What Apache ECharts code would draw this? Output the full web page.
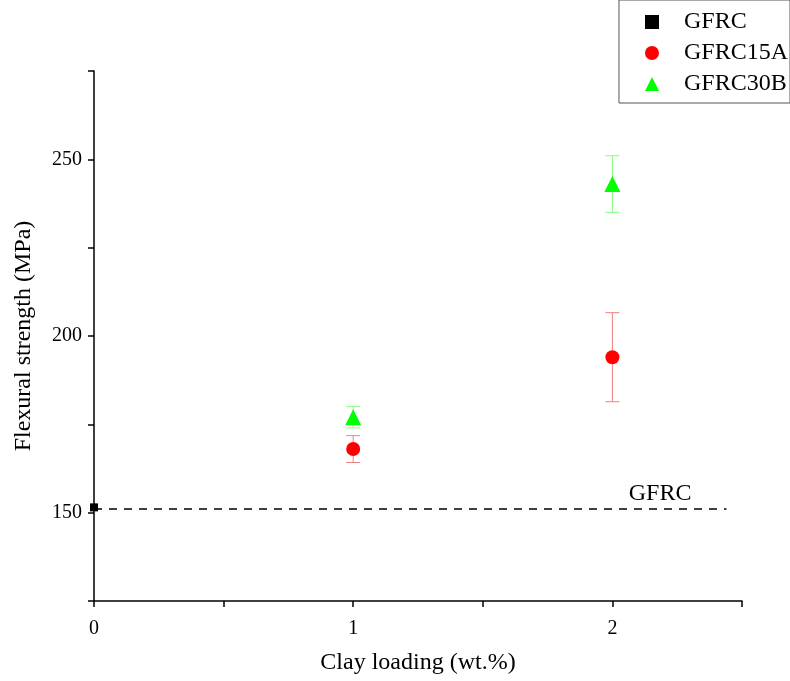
<!DOCTYPE html>
<html>
<head>
<meta charset="utf-8">
<script src="https://cdn.jsdelivr.net/npm/echarts@6/dist/echarts.min.js"></script>
<style>
html,body{margin:0;padding:0;background:#fff;}
#main{width:790px;height:681px;}
</style>
</head>
<body>
<div id="main"></div>
<script>

// 数据
const seriesNames = ["GFRC", "GFRC15A", "GFRC30B"];

const gfrcX = [0];
const gfrcY = [151.5];

const a15X = [1, 2];
const a15Y = [168, 194];
const a15Err = [3.8, 12.6];

const b30X = [1, 2];
const b30Y = [177, 243];
const b30Err = [3, 8];

const refValue = 151;
const refEndX = 2.44;

const xTickLabels = ["0", "1", "2"];
const yTickLabels = ["150", "200", "250"];


const font = "Liberation Serif";


function errorSeries(xs, ys, errs, color){

return {
type:"custom",
silent:true,
z:1,
data:xs.map((x,i)=>[x, ys[i]-errs[i], ys[i]+errs[i]]),
renderItem:function(params, api){
const lo = api.coord([api.value(0), api.value(1)]);
const hi = api.coord([api.value(0), api.value(2)]);
const w = 7;
const st = {stroke:color, lineWidth:1};
return {
type:"group",
children:[
{type:"line", shape:{x1:lo[0], y1:lo[1], x2:hi[0], y2:hi[1]}, style:st},
{type:"line", shape:{x1:lo[0]-w, y1:lo[1], x2:lo[0]+w, y2:lo[1]}, style:st},
{type:"line", shape:{x1:hi[0]-w, y1:hi[1], x2:hi[0]+w, y2:hi[1]}, style:st}
]
};
}
};

}


const chart = echarts.init(document.getElementById("main"));

chart.setOption({

animation:false,

grid:{
left:94,
right:48,
top:71,
bottom:80
},

legend:{
data:seriesNames,
orient:"vertical",
right:0,
top:0,
padding:[10,2,7,26],
itemWidth:14,
itemHeight:14,
itemGap:7,
borderColor:"#555",
borderWidth:1,
textStyle:{
fontFamily:font,
fontSize:24,
color:"#000",
padding:[0,0,0,20]
}
},

xAxis:{
type:"value",
min:0,
max:2.5,
interval:0.5,
name:"Clay loading (wt.%)",
nameLocation:"middle",
nameGap:50,
nameTextStyle:{
fontFamily:font,
fontSize:24,
color:"#000"
},
splitLine:{show:false},
axisLine:{lineStyle:{color:"#000", width:1.5}},
axisTick:{length:6, lineStyle:{color:"#000", width:1.5}},
axisLabel:{
fontFamily:font,
fontSize:20,
color:"#000",
margin:18,
formatter:v=>xTickLabels.includes(String(v)) ? String(v) : ""
}
},

yAxis:{
type:"value",
min:125,
max:275,
interval:25,
name:"Flexural strength (MPa)",
nameLocation:"middle",
nameGap:58,
nameTextStyle:{
fontFamily:font,
fontSize:24,
color:"#000"
},
splitLine:{show:false},
axisLine:{lineStyle:{color:"#000", width:1.5}},
axisTick:{length:6, lineStyle:{color:"#000", width:1.5}},
axisLabel:{
fontFamily:font,
fontSize:20,
color:"#000",
margin:12,
formatter:v=>yTickLabels.includes(String(v)) ? String(v) : ""
}
},

series:[

{
name:"GFRC",
type:"scatter",
symbol:"rect",
symbolSize:8,
itemStyle:{color:"#000", opacity:1},
data:gfrcX.map((x,i)=>[x, gfrcY[i]]),
markLine:{
silent:true,
symbol:["none","none"],
lineStyle:{color:"#000", type:[8,7], width:1.5},
label:{
show:true,
position:"insideEndTop",
formatter:"GFRC",
fontFamily:font,
fontSize:24,
color:"#000",
distance:[35,3]
},
data:[[
{coord:[0, refValue]},
{coord:[refEndX, refValue]}
]]
}
},

{
name:"GFRC15A",
type:"scatter",
symbol:"circle",
symbolSize:14,
z:3,
itemStyle:{color:"#ff0000", opacity:1},
data:a15X.map((x,i)=>[x, a15Y[i]])
},

{
name:"GFRC30B",
type:"scatter",
symbol:"triangle",
symbolSize:16,
z:3,
itemStyle:{color:"#00ff00", opacity:1},
data:b30X.map((x,i)=>[x, b30Y[i]])
},

errorSeries(a15X, a15Y, a15Err, "#f08080"),

errorSeries(b30X, b30Y, b30Err, "#80ff80")

]

});

</script>
</body>
</html>
